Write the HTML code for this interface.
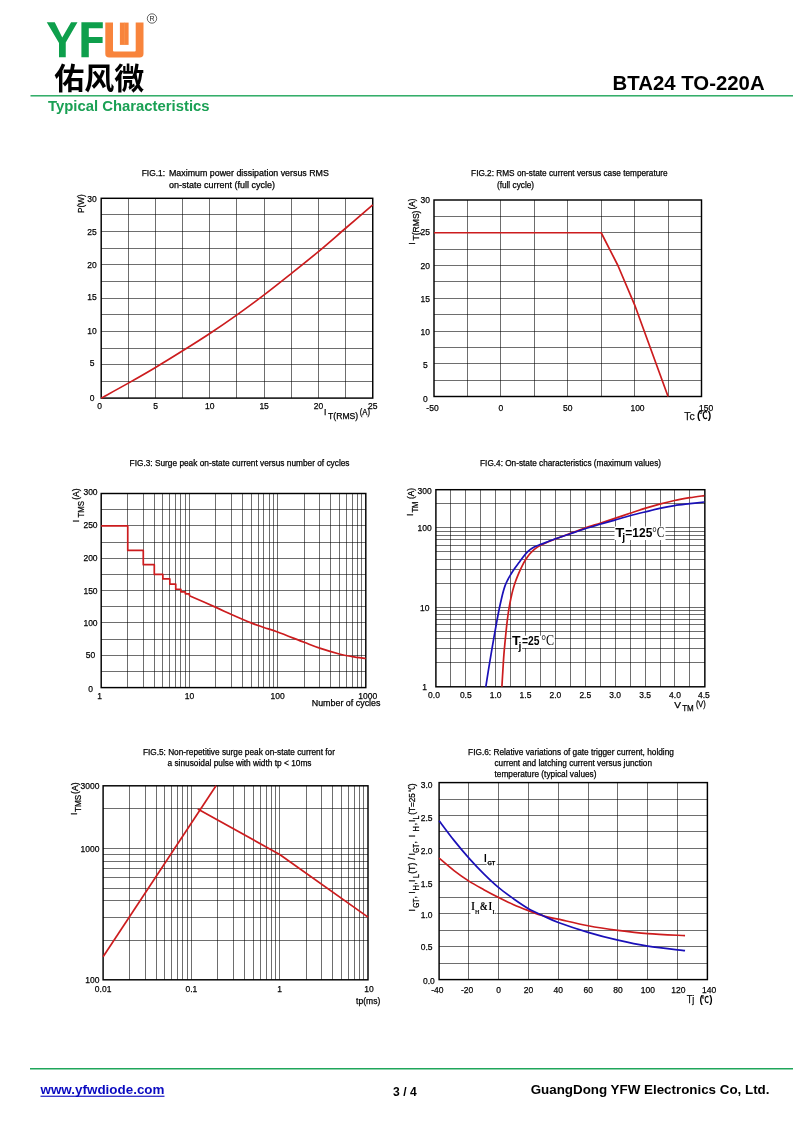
<!DOCTYPE html>
<html lang="en"><head><meta charset="utf-8"><title>BTA24 TO-220A - Typical Characteristics</title>
<style>
html,body{margin:0;padding:0;background:#fff;}
body{width:800px;height:1130px;overflow:hidden;font-family:"Liberation Sans",sans-serif;}
svg{display:block;position:absolute;left:0;top:0;will-change:transform;}
svg{font-family:"Liberation Sans",sans-serif;}
.s,.r text{stroke:#000;stroke-width:0.25px;}
</style></head><body>
<svg width="800" height="1130" viewBox="0 0 800 1130" font-size="8.6" fill="#000">
<path d="M46.75 22.3H54.75L62.25 37.5L71.1 22.3H77.5L65.75 42.5V57.25H59V43Z" fill="#0e9f4c"/>
<path d="M81.4 22.3H102.8V28.2H88.8V37H102.6V42.9H88.8V57.25H81.4Z" fill="#0e9f4c"/>
<path d="M105.3 22.6H113V50.4Q113 51.4 114 51.4H134.7Q135.7 51.4 135.7 50.4V22.6H143.5V53.7Q143.5 57.5 139.7 57.5H109.1Q105.3 57.5 105.3 53.7Z" fill="#f8843c"/>
<rect x="119.9" y="22.6" width="8.7" height="22.3" fill="#f8843c"/>
<rect x="124.0" y="22.6" width="0.5" height="22.3" fill="#f79a58"/>
<circle cx="152" cy="18.5" r="4.7" fill="none" stroke="#222" stroke-width="0.7"/>
<text x="152" y="21.1" font-size="7.0" text-anchor="middle" fill="#222">R</text>
<text x="54.2" y="88.6" font-size="30" font-weight="bold" textLength="90" lengthAdjust="spacingAndGlyphs" fill="#000" style="font-family:'Liberation Sans','Noto Sans CJK SC',sans-serif">佑风微</text>
<rect x="30.5" y="95.1" width="762.5" height="1.4" fill="#1fa65a"/>
<text x="48.0" y="111.3" font-size="14.8" font-weight="bold" textLength="161.6" lengthAdjust="spacingAndGlyphs" fill="#1aa054">Typical Characteristics</text>
<text x="612.6" y="90.4" font-size="19.4" font-weight="bold" textLength="152" lengthAdjust="spacingAndGlyphs">BTA24 TO-220A</text>
<rect x="30" y="1068" width="763" height="1.5" fill="#1fa65a"/>
<text x="40.5" y="1093.7" font-size="13.4" font-weight="bold" textLength="124" lengthAdjust="spacingAndGlyphs" fill="#0a0ac0">www.yfwdiode.com</text>
<rect x="40.5" y="1095.7" width="124" height="1.1" fill="#0a0ac0"/>
<text x="393.1" y="1095.7" font-size="12.1" font-weight="bold" textLength="23.6" lengthAdjust="spacingAndGlyphs">3 / 4</text>
<text x="530.7" y="1093.6" font-size="13.4" font-weight="bold" textLength="238.8" lengthAdjust="spacingAndGlyphs">GuangDong YFW Electronics Co, Ltd.</text>
<g stroke="#000" stroke-opacity="0.57" stroke-width="1" fill="none" shape-rendering="crispEdges"><path d="M128.36 198.3V398.1M155.51 198.3V398.1M182.67 198.3V398.1M209.82 198.3V398.1M236.98 198.3V398.1M264.13 198.3V398.1M291.29 198.3V398.1M318.44 198.3V398.1M345.60 198.3V398.1"/><path d="M101.2 214.95H372.75M101.2 231.60H372.75M101.2 248.25H372.75M101.2 264.90H372.75M101.2 281.55H372.75M101.2 298.20H372.75M101.2 314.85H372.75M101.2 331.50H372.75M101.2 348.15H372.75M101.2 364.80H372.75M101.2 381.45H372.75"/></g>
<rect x="101.2" y="198.3" width="271.55" height="199.80" fill="none" stroke="#000" stroke-width="1.45"/>
<path d="M101.20 398.10C105.73 395.60 119.30 388.22 128.36 383.12C137.41 378.01 146.46 372.85 155.51 367.46C164.56 362.08 173.61 356.48 182.67 350.81C191.72 345.15 200.77 339.49 209.82 333.50C218.87 327.50 227.92 321.29 236.98 314.85C246.03 308.41 255.08 301.75 264.13 294.87C273.18 287.99 282.23 280.77 291.29 273.56C300.34 266.34 309.39 259.13 318.44 251.58C327.49 244.03 336.54 236.04 345.60 228.27C354.65 220.50 368.22 208.84 372.75 204.96" stroke="#cc1c1e" stroke-width="1.7" fill="none" stroke-linejoin="round"/>
<text x="141.7" y="175.9" class="s" font-size="8.5" textLength="23.3" lengthAdjust="spacingAndGlyphs">FIG.1:</text>
<text x="169" y="175.9" class="s" font-size="8.5" textLength="159.9" lengthAdjust="spacingAndGlyphs">Maximum power dissipation versus RMS</text>
<text x="169" y="188.3" class="s" font-size="8.5" textLength="105.9" lengthAdjust="spacingAndGlyphs">on-state current (full cycle)</text>
<text x="92.0" y="201.8" class="s" font-size="9.6" text-anchor="middle" textLength="9.45" lengthAdjust="spacingAndGlyphs">30</text>
<text x="92.0" y="234.9" class="s" font-size="9.6" text-anchor="middle" textLength="9.45" lengthAdjust="spacingAndGlyphs">25</text>
<text x="92.0" y="268" class="s" font-size="9.6" text-anchor="middle" textLength="9.45" lengthAdjust="spacingAndGlyphs">20</text>
<text x="92.0" y="299.7" class="s" font-size="9.6" text-anchor="middle" textLength="9.45" lengthAdjust="spacingAndGlyphs">15</text>
<text x="92.0" y="333.6" class="s" font-size="9.6" text-anchor="middle" textLength="9.45" lengthAdjust="spacingAndGlyphs">10</text>
<text x="92.0" y="366.3" class="s" font-size="9.6" text-anchor="middle" textLength="4.73" lengthAdjust="spacingAndGlyphs">5</text>
<text x="92.0" y="401.3" class="s" font-size="9.6" text-anchor="middle" textLength="4.73" lengthAdjust="spacingAndGlyphs">0</text>
<text x="99.5" y="408.5" class="s" font-size="9.6" text-anchor="middle" textLength="4.73" lengthAdjust="spacingAndGlyphs">0</text>
<text x="155.5" y="408.5" class="s" font-size="9.6" text-anchor="middle" textLength="4.73" lengthAdjust="spacingAndGlyphs">5</text>
<text x="209.8" y="408.5" class="s" font-size="9.6" text-anchor="middle" textLength="9.45" lengthAdjust="spacingAndGlyphs">10</text>
<text x="264.1" y="408.5" class="s" font-size="9.6" text-anchor="middle" textLength="9.45" lengthAdjust="spacingAndGlyphs">15</text>
<text x="318.4" y="408.5" class="s" font-size="9.6" text-anchor="middle" textLength="9.45" lengthAdjust="spacingAndGlyphs">20</text>
<text x="372.8" y="408.5" class="s" font-size="9.6" text-anchor="middle" textLength="9.45" lengthAdjust="spacingAndGlyphs">25</text>
<g class="r" transform="translate(84.1,212.9) rotate(-90)"><text x="0" y="0" textLength="18.7" lengthAdjust="spacingAndGlyphs">P(W)</text></g>
<text x="324.1" y="414.8" class="s">I</text>
<text x="328" y="419.2" class="s" textLength="30.2" lengthAdjust="spacingAndGlyphs">T(RMS)</text>
<text x="359.7" y="415" class="s" textLength="10.3" lengthAdjust="spacingAndGlyphs">(A)</text>
<g stroke="#000" stroke-opacity="0.57" stroke-width="1" fill="none" shape-rendering="crispEdges"><path d="M467.44 200.0V396.5M500.88 200.0V396.5M534.31 200.0V396.5M567.75 200.0V396.5M601.19 200.0V396.5M634.62 200.0V396.5M668.06 200.0V396.5"/><path d="M434.0 216.38H701.5M434.0 232.75H701.5M434.0 249.12H701.5M434.0 265.50H701.5M434.0 281.88H701.5M434.0 298.25H701.5M434.0 314.62H701.5M434.0 331.00H701.5M434.0 347.38H701.5M434.0 363.75H701.5M434.0 380.12H701.5"/></g>
<rect x="434.0" y="200.0" width="267.50" height="196.50" fill="none" stroke="#000" stroke-width="1.45"/>
<path d="M434.00 232.75L601.19 232.75L617.91 265.50L634.62 304.80L668.06 396.50" stroke="#cc1c1e" stroke-width="1.7" fill="none" stroke-linejoin="round"/>
<text x="471.1" y="175.9" class="s" font-size="8.5" textLength="196.5" lengthAdjust="spacingAndGlyphs">FIG.2: RMS on-state current versus case temperature</text>
<text x="496.9" y="188.2" class="s" font-size="8.5" textLength="37.2" lengthAdjust="spacingAndGlyphs">(full cycle)</text>
<text x="425.3" y="202.7" class="s" font-size="9.6" text-anchor="middle" textLength="9.45" lengthAdjust="spacingAndGlyphs">30</text>
<text x="425.3" y="235.4" class="s" font-size="9.6" text-anchor="middle" textLength="9.45" lengthAdjust="spacingAndGlyphs">25</text>
<text x="425.3" y="268.9" class="s" font-size="9.6" text-anchor="middle" textLength="9.45" lengthAdjust="spacingAndGlyphs">20</text>
<text x="425.3" y="301.6" class="s" font-size="9.6" text-anchor="middle" textLength="9.45" lengthAdjust="spacingAndGlyphs">15</text>
<text x="425.3" y="334.7" class="s" font-size="9.6" text-anchor="middle" textLength="9.45" lengthAdjust="spacingAndGlyphs">10</text>
<text x="425.3" y="367.6" class="s" font-size="9.6" text-anchor="middle" textLength="4.73" lengthAdjust="spacingAndGlyphs">5</text>
<text x="425.3" y="401.7" class="s" font-size="9.6" text-anchor="middle" textLength="4.73" lengthAdjust="spacingAndGlyphs">0</text>
<text x="432.5" y="410.8" class="s" font-size="9.6" text-anchor="middle" textLength="12.28" lengthAdjust="spacingAndGlyphs">-50</text>
<text x="500.9" y="410.8" class="s" font-size="9.6" text-anchor="middle" textLength="4.73" lengthAdjust="spacingAndGlyphs">0</text>
<text x="567.8" y="410.8" class="s" font-size="9.6" text-anchor="middle" textLength="9.45" lengthAdjust="spacingAndGlyphs">50</text>
<text x="637.5" y="410.8" class="s" font-size="9.6" text-anchor="middle" textLength="14.18" lengthAdjust="spacingAndGlyphs">100</text>
<text x="706.2" y="410.6" class="s" font-size="9.6" text-anchor="middle" textLength="14.18" lengthAdjust="spacingAndGlyphs">150</text>
<g class="r" transform="translate(414.6,244.7) rotate(-90)"><text x="0" y="0">I</text><text x="4.2" y="4.2" textLength="30" lengthAdjust="spacingAndGlyphs">T(RMS)</text><text x="35.3" y="0.2" textLength="10.9" lengthAdjust="spacingAndGlyphs">(A)</text></g>
<text x="684.3" y="419.5" class="s" font-size="10.8" textLength="10.4" lengthAdjust="spacingAndGlyphs" fill="#222">Tc</text>
<text x="697" y="419.2" font-size="10.5" font-weight="bold">(</text>
<text x="699.3" y="419.2" font-size="10.2" font-weight="bold" textLength="8.4" lengthAdjust="spacingAndGlyphs" fill="#000" style="font-family:'Liberation Sans','Noto Sans CJK SC',sans-serif">℃</text>
<text x="707.8" y="419.2" font-size="10.5" font-weight="bold">)</text>
<g stroke="#000" stroke-opacity="0.57" stroke-width="1" fill="none" shape-rendering="crispEdges"><path d="M127.75 493.5V687.6M143.28 493.5V687.6M154.30 493.5V687.6M162.85 493.5V687.6M169.83 493.5V687.6M175.74 493.5V687.6M180.85 493.5V687.6M185.36 493.5V687.6M189.40 493.5V687.6M215.95 493.5V687.6M231.48 493.5V687.6M242.50 493.5V687.6M251.05 493.5V687.6M258.03 493.5V687.6M263.94 493.5V687.6M269.05 493.5V687.6M273.56 493.5V687.6M277.60 493.5V687.6M304.15 493.5V687.6M319.68 493.5V687.6M330.70 493.5V687.6M339.25 493.5V687.6M346.23 493.5V687.6M352.14 493.5V687.6M357.25 493.5V687.6M361.76 493.5V687.6"/><path d="M101.2 509.68H365.8M101.2 525.85H365.8M101.2 542.02H365.8M101.2 558.20H365.8M101.2 574.38H365.8M101.2 590.55H365.8M101.2 606.73H365.8M101.2 622.90H365.8M101.2 639.08H365.8M101.2 655.25H365.8M101.2 671.43H365.8"/></g>
<rect x="101.2" y="493.5" width="264.60" height="194.10" fill="none" stroke="#000" stroke-width="1.45"/>
<path d="M101.20 525.85L127.75 525.85L127.75 550.44L143.28 550.44L143.28 564.67L154.30 564.67L154.30 574.38L162.85 574.38L162.85 578.90L169.83 578.90L169.83 584.08L175.74 584.08L175.74 589.26L180.85 589.26L180.85 591.84L185.36 591.84L185.36 593.78L189.40 593.78L189.40 595.73" stroke="#cc1c1e" stroke-width="1.7" fill="none" stroke-linejoin="round"/>
<path d="M189.40 595.73C193.83 597.67 208.94 604.24 215.95 607.37C222.96 610.50 225.63 611.90 231.48 614.49C237.33 617.08 245.64 620.74 251.05 622.90C256.46 625.06 259.51 625.92 263.94 627.43C268.36 628.94 270.90 629.48 277.60 631.96C284.30 634.44 297.14 639.61 304.15 642.31C311.16 645.01 313.83 646.19 319.68 648.13C325.53 650.07 333.84 652.55 339.25 653.96C344.66 655.36 347.71 655.79 352.14 656.54C356.56 657.30 363.52 658.16 365.80 658.49" stroke="#cc1c1e" stroke-width="1.7" fill="none" stroke-linejoin="round"/>
<text x="129.6" y="465.6" class="s" font-size="8.3" textLength="219.9" lengthAdjust="spacingAndGlyphs">FIG.3: Surge peak on-state current versus number of cycles</text>
<text x="90.5" y="495.3" class="s" font-size="9.6" text-anchor="middle" textLength="14.18" lengthAdjust="spacingAndGlyphs">300</text>
<text x="90.5" y="528.4" class="s" font-size="9.6" text-anchor="middle" textLength="14.18" lengthAdjust="spacingAndGlyphs">250</text>
<text x="90.5" y="561" class="s" font-size="9.6" text-anchor="middle" textLength="14.18" lengthAdjust="spacingAndGlyphs">200</text>
<text x="90.5" y="593.7" class="s" font-size="9.6" text-anchor="middle" textLength="14.18" lengthAdjust="spacingAndGlyphs">150</text>
<text x="90.5" y="625.8" class="s" font-size="9.6" text-anchor="middle" textLength="14.18" lengthAdjust="spacingAndGlyphs">100</text>
<text x="90.5" y="658.3" class="s" font-size="9.6" text-anchor="middle" textLength="9.45" lengthAdjust="spacingAndGlyphs">50</text>
<text x="90.5" y="692.4" class="s" font-size="9.6" text-anchor="middle" textLength="4.73" lengthAdjust="spacingAndGlyphs">0</text>
<text x="99.6" y="699" class="s" font-size="9.6" text-anchor="middle" textLength="4.73" lengthAdjust="spacingAndGlyphs">1</text>
<text x="189.4" y="699" class="s" font-size="9.6" text-anchor="middle" textLength="9.45" lengthAdjust="spacingAndGlyphs">10</text>
<text x="277.6" y="699" class="s" font-size="9.6" text-anchor="middle" textLength="14.18" lengthAdjust="spacingAndGlyphs">100</text>
<text x="367.8" y="699" class="s" font-size="9.6" text-anchor="middle" textLength="18.9" lengthAdjust="spacingAndGlyphs">1000</text>
<text x="311.75" y="705.75" class="s" font-size="8.8" textLength="68.7" lengthAdjust="spacingAndGlyphs">Number of cycles</text>
<g class="r" transform="translate(79.1,522.2) rotate(-90)"><text x="0" y="0">I</text><text x="4.6" y="4.9" textLength="16.5" lengthAdjust="spacingAndGlyphs">TMS</text><text x="22.4" y="0.2" textLength="11.3" lengthAdjust="spacingAndGlyphs">(A)</text></g>
<g stroke="#000" stroke-opacity="0.57" stroke-width="1" fill="none" shape-rendering="crispEdges"><path d="M450.84 489.7V686.8M465.78 489.7V686.8M480.72 489.7V686.8M495.67 489.7V686.8M510.61 489.7V686.8M525.55 489.7V686.8M540.49 489.7V686.8M555.43 489.7V686.8M570.38 489.7V686.8M585.32 489.7V686.8M600.26 489.7V686.8M615.20 489.7V686.8M630.14 489.7V686.8M645.08 489.7V686.8M660.03 489.7V686.8M674.97 489.7V686.8M689.91 489.7V686.8"/><path d="M435.9 662.85H704.85M435.9 648.84H704.85M435.9 638.90H704.85M435.9 631.18H704.85M435.9 624.88H704.85M435.9 619.56H704.85M435.9 614.94H704.85M435.9 610.87H704.85M435.9 607.23H704.85M435.9 583.28H704.85M435.9 569.27H704.85M435.9 559.33H704.85M435.9 551.62H704.85M435.9 545.32H704.85M435.9 539.99H704.85M435.9 535.37H704.85M435.9 531.30H704.85M435.9 527.66H704.85M435.9 503.71H704.85"/></g>
<rect x="435.9" y="489.7" width="268.95" height="197.10" fill="none" stroke="#000" stroke-width="1.45"/>
<path d="M501.90 686.80C502.05 684.27 502.47 676.97 502.80 671.60C503.13 666.23 503.50 659.80 503.90 654.60C504.30 649.40 504.75 645.12 505.20 640.40C505.65 635.68 506.13 630.53 506.60 626.30C507.07 622.07 507.53 618.35 508.00 615.00C508.47 611.65 508.93 608.90 509.40 606.20C509.87 603.50 510.25 601.40 510.80 598.80C511.35 596.20 511.93 593.43 512.70 590.60C513.47 587.77 514.40 584.67 515.40 581.80C516.40 578.93 517.55 576.10 518.70 573.40C519.85 570.70 521.18 567.83 522.30 565.60C523.42 563.37 524.20 561.88 525.40 560.00C526.60 558.12 528.10 556.00 529.50 554.30C530.90 552.60 532.35 551.08 533.80 549.80C535.25 548.52 537.00 547.38 538.20 546.60C539.40 545.82 539.40 545.87 541.00 545.10C542.60 544.33 545.40 543.02 547.80 542.00C550.20 540.98 551.63 540.43 555.40 539.00C559.17 537.57 565.47 535.22 570.40 533.40C575.33 531.58 580.05 529.80 585.00 528.10C589.95 526.40 595.13 524.82 600.10 523.20C605.07 521.58 609.83 520.05 614.80 518.40C619.77 516.75 624.90 514.97 629.90 513.30C634.90 511.63 639.85 509.93 644.80 508.40C649.75 506.87 654.65 505.42 659.60 504.10C664.55 502.78 669.47 501.57 674.50 500.50C679.53 499.43 684.83 498.52 689.80 497.70C694.77 496.88 701.88 495.95 704.30 495.60" stroke="#cc1c1e" stroke-width="1.7" fill="none" stroke-linejoin="round"/>
<path d="M485.80 686.80C486.20 684.27 487.33 676.97 488.20 671.60C489.07 666.23 490.05 660.27 491.00 654.60C491.95 648.93 492.95 643.03 493.90 637.60C494.85 632.17 495.82 626.77 496.70 622.00C497.58 617.23 498.43 612.75 499.20 609.00C499.97 605.25 500.63 602.37 501.30 599.50C501.97 596.63 502.57 594.12 503.20 591.80C503.83 589.48 504.43 587.43 505.10 585.60C505.77 583.77 506.35 582.50 507.20 580.80C508.05 579.10 508.97 577.43 510.20 575.40C511.43 573.37 513.13 570.75 514.60 568.60C516.07 566.45 517.52 564.52 519.00 562.50C520.48 560.48 522.00 558.35 523.50 556.50C525.00 554.65 526.50 552.82 528.00 551.40C529.50 549.98 531.00 548.93 532.50 548.00C534.00 547.07 535.62 546.40 537.00 545.80C538.38 545.20 539.02 545.07 540.80 544.40C542.58 543.73 545.27 542.73 547.70 541.80C550.13 540.87 551.62 540.15 555.40 538.80C559.18 537.45 565.47 535.37 570.40 533.70C575.33 532.03 580.05 530.37 585.00 528.80C589.95 527.23 595.13 525.75 600.10 524.30C605.07 522.85 609.83 521.52 614.80 520.10C619.77 518.68 624.90 517.15 629.90 515.80C634.90 514.45 639.85 513.23 644.80 512.00C649.75 510.77 654.65 509.47 659.60 508.40C664.55 507.33 669.47 506.38 674.50 505.60C679.53 504.82 684.83 504.30 689.80 503.70C694.77 503.10 701.88 502.28 704.30 502.00" stroke="#1a10b8" stroke-width="1.7" fill="none" stroke-linejoin="round"/>
<text x="480.1" y="465.6" class="s" font-size="8.3" textLength="180.9" lengthAdjust="spacingAndGlyphs">FIG.4: On-state characteristics (maximum values)</text>
<text x="424.7" y="493.7" class="s" font-size="9.6" text-anchor="middle" textLength="14.18" lengthAdjust="spacingAndGlyphs">300</text>
<text x="424.7" y="530.7" class="s" font-size="9.6" text-anchor="middle" textLength="14.18" lengthAdjust="spacingAndGlyphs">100</text>
<text x="424.7" y="610.5" class="s" font-size="9.6" text-anchor="middle" textLength="9.45" lengthAdjust="spacingAndGlyphs">10</text>
<text x="424.7" y="689.8" class="s" font-size="9.6" text-anchor="middle" textLength="4.73" lengthAdjust="spacingAndGlyphs">1</text>
<text x="434.0" y="697.8" class="s" font-size="9.6" text-anchor="middle" textLength="11.81" lengthAdjust="spacingAndGlyphs">0.0</text>
<text x="465.8" y="697.8" class="s" font-size="9.6" text-anchor="middle" textLength="11.81" lengthAdjust="spacingAndGlyphs">0.5</text>
<text x="495.7" y="697.8" class="s" font-size="9.6" text-anchor="middle" textLength="11.81" lengthAdjust="spacingAndGlyphs">1.0</text>
<text x="525.5" y="697.8" class="s" font-size="9.6" text-anchor="middle" textLength="11.81" lengthAdjust="spacingAndGlyphs">1.5</text>
<text x="555.4" y="697.8" class="s" font-size="9.6" text-anchor="middle" textLength="11.81" lengthAdjust="spacingAndGlyphs">2.0</text>
<text x="585.3" y="697.8" class="s" font-size="9.6" text-anchor="middle" textLength="11.81" lengthAdjust="spacingAndGlyphs">2.5</text>
<text x="615.2" y="697.8" class="s" font-size="9.6" text-anchor="middle" textLength="11.81" lengthAdjust="spacingAndGlyphs">3.0</text>
<text x="645.1" y="697.8" class="s" font-size="9.6" text-anchor="middle" textLength="11.81" lengthAdjust="spacingAndGlyphs">3.5</text>
<text x="675.0" y="697.8" class="s" font-size="9.6" text-anchor="middle" textLength="11.81" lengthAdjust="spacingAndGlyphs">4.0</text>
<text x="703.9" y="697.8" class="s" font-size="9.6" text-anchor="middle" textLength="11.81" lengthAdjust="spacingAndGlyphs">4.5</text>
<g class="r" transform="translate(413.1,516.0) rotate(-90)"><text x="0" y="0">I</text><text x="3.5" y="4.5" textLength="10.9" lengthAdjust="spacingAndGlyphs">TM</text><text x="17" y="0.8" textLength="10.9" lengthAdjust="spacingAndGlyphs">(A)</text></g>
<text x="674.3" y="707.6" class="s" textLength="6.7" lengthAdjust="spacingAndGlyphs">V</text>
<text x="682.2" y="711.2" class="s" textLength="11.6" lengthAdjust="spacingAndGlyphs">TM</text>
<text x="695.9" y="707.2" class="s" textLength="9.9" lengthAdjust="spacingAndGlyphs">(V)</text>
<path d="M614.5 526.5H665.5V540H626V543.2H622V540H614.5Z" fill="#fff"/>
<text x="615.2" y="536.8" font-size="12.8" font-weight="bold" textLength="9" lengthAdjust="spacingAndGlyphs">T</text>
<text x="622.3" y="541.0" font-size="10.5" font-weight="bold">j</text>
<text x="625.3" y="536.8" font-size="12.8" font-weight="bold" textLength="27" lengthAdjust="spacingAndGlyphs">=125</text>
<text x="652.3" y="536.8" font-size="13.6" textLength="12" lengthAdjust="spacingAndGlyphs" style="font-family:'Liberation Serif',serif">°C</text>
<path d="M511.4 635.7H554.7V648.1H522V652H518.3V648.1H511.4Z" fill="#fff"/>
<text x="511.9" y="645.3" font-size="12.8" font-weight="bold" textLength="8.5" lengthAdjust="spacingAndGlyphs">T</text>
<text x="518.6" y="649.5" font-size="10.5" font-weight="bold">j</text>
<text x="522" y="645.3" font-size="12.8" font-weight="bold" textLength="17.5" lengthAdjust="spacingAndGlyphs">=25</text>
<text x="541.2" y="645.3" font-size="13.6" textLength="12.9" lengthAdjust="spacingAndGlyphs" style="font-family:'Liberation Serif',serif">°C</text>
<g stroke="#000" stroke-opacity="0.57" stroke-width="1" fill="none" shape-rendering="crispEdges"><path d="M129.68 785.8V979.8M145.23 785.8V979.8M156.26 785.8V979.8M164.82 785.8V979.8M171.81 785.8V979.8M177.72 785.8V979.8M182.84 785.8V979.8M187.36 785.8V979.8M191.40 785.8V979.8M217.98 785.8V979.8M233.53 785.8V979.8M244.56 785.8V979.8M253.12 785.8V979.8M260.11 785.8V979.8M266.02 785.8V979.8M271.14 785.8V979.8M275.66 785.8V979.8M279.70 785.8V979.8M306.28 785.8V979.8M321.83 785.8V979.8M332.86 785.8V979.8M341.42 785.8V979.8M348.41 785.8V979.8M354.32 785.8V979.8M359.44 785.8V979.8M363.96 785.8V979.8"/><path d="M103.1 940.26H368.0M103.1 917.14H368.0M103.1 900.73H368.0M103.1 888.00H368.0M103.1 877.60H368.0M103.1 868.81H368.0M103.1 861.19H368.0M103.1 854.47H368.0M103.1 848.46H368.0M103.1 808.93H368.0"/></g>
<rect x="103.1" y="785.8" width="264.90" height="194.00" fill="none" stroke="#000" stroke-width="1.45"/>
<path d="M103.10 956.67L216.01 785.80" stroke="#cc1c1e" stroke-width="1.7" fill="none" stroke-linejoin="round"/>
<path d="M197.75 808.93L279.70 854.47L368.00 917.14" stroke="#cc1c1e" stroke-width="1.7" fill="none" stroke-linejoin="round"/>
<text x="142.9" y="755.3" class="s" font-size="8.3" textLength="192" lengthAdjust="spacingAndGlyphs">FIG.5: Non-repetitive surge peak on-state current for</text>
<text x="167.5" y="766.0" class="s" font-size="8.3" textLength="144" lengthAdjust="spacingAndGlyphs">a sinusoidal pulse with width tp &lt; 10ms</text>
<text x="99.4" y="788.7" class="s" font-size="9.6" text-anchor="end" textLength="18.9" lengthAdjust="spacingAndGlyphs">3000</text>
<text x="99.4" y="851.6" class="s" font-size="9.6" text-anchor="end" textLength="18.9" lengthAdjust="spacingAndGlyphs">1000</text>
<text x="99.4" y="983.4" class="s" font-size="9.6" text-anchor="end" textLength="14.18" lengthAdjust="spacingAndGlyphs">100</text>
<text x="103.1" y="992.3" class="s" font-size="9.6" text-anchor="middle" textLength="16.54" lengthAdjust="spacingAndGlyphs">0.01</text>
<text x="191.4" y="992.3" class="s" font-size="9.6" text-anchor="middle" textLength="11.81" lengthAdjust="spacingAndGlyphs">0.1</text>
<text x="279.7" y="992.3" class="s" font-size="9.6" text-anchor="middle" textLength="4.73" lengthAdjust="spacingAndGlyphs">1</text>
<text x="368.9" y="992.3" class="s" font-size="9.6" text-anchor="middle" textLength="9.45" lengthAdjust="spacingAndGlyphs">10</text>
<text x="356.1" y="1003.8" class="s" textLength="24.2" lengthAdjust="spacingAndGlyphs">tp(ms)</text>
<g class="r" transform="translate(76.9,815.1) rotate(-90)"><text x="0" y="0">I</text><text x="3.1" y="4.1" textLength="17.25" lengthAdjust="spacingAndGlyphs">TMS</text><text x="21.1" y="0.8" textLength="11.6" lengthAdjust="spacingAndGlyphs">(A)</text></g>
<g stroke="#000" stroke-opacity="0.57" stroke-width="1" fill="none" shape-rendering="crispEdges"><path d="M468.91 782.6V979.6M498.72 782.6V979.6M528.53 782.6V979.6M558.34 782.6V979.6M588.16 782.6V979.6M617.97 782.6V979.6M647.78 782.6V979.6M677.59 782.6V979.6"/><path d="M439.1 799.02H707.4M439.1 815.43H707.4M439.1 831.85H707.4M439.1 848.27H707.4M439.1 864.68H707.4M439.1 881.10H707.4M439.1 897.52H707.4M439.1 913.93H707.4M439.1 930.35H707.4M439.1 946.77H707.4M439.1 963.18H707.4"/></g>
<rect x="439.1" y="782.6" width="268.30" height="197.00" fill="none" stroke="#000" stroke-width="1.45"/>
<rect x="486.7" y="855" width="10" height="10.5" fill="#fff"/>
<rect x="470.5" y="901.5" width="26" height="13.5" fill="#fff"/>
<path d="M439.10 858.12C441.58 860.20 449.04 866.76 454.01 870.59C458.97 874.42 463.94 877.93 468.91 881.10C473.88 884.27 478.85 886.90 483.82 889.64C488.79 892.37 493.75 895.00 498.72 897.52C503.69 900.03 508.66 902.55 513.63 904.74C518.60 906.93 523.56 908.79 528.53 910.65C533.50 912.51 538.47 914.48 543.44 915.90C548.41 917.33 550.89 917.55 558.34 919.19C565.80 920.83 578.22 923.89 588.16 925.75C598.09 927.61 608.03 929.04 617.97 930.35C627.90 931.66 636.60 932.76 647.78 933.63C658.96 934.51 678.83 935.27 685.04 935.60" stroke="#cc1c1e" stroke-width="1.7" fill="none" stroke-linejoin="round"/>
<path d="M439.10 820.69C441.58 823.97 449.04 834.15 454.01 840.39C458.97 846.62 463.94 852.53 468.91 858.12C473.88 863.70 478.85 868.95 483.82 873.88C488.79 878.80 493.75 883.51 498.72 887.67C503.69 891.83 508.66 895.33 513.63 898.83C518.60 902.33 523.56 905.83 528.53 908.68C533.50 911.53 538.47 913.61 543.44 915.90C548.41 918.20 550.89 919.73 558.34 922.47C565.80 925.21 578.22 929.37 588.16 932.32C598.09 935.28 608.03 937.90 617.97 940.20C627.90 942.50 636.60 944.36 647.78 946.11C658.96 947.86 678.83 949.94 685.04 950.71" stroke="#1a10b8" stroke-width="1.7" fill="none" stroke-linejoin="round"/>
<text x="468.1" y="755" class="s" font-size="8.3" textLength="205.8" lengthAdjust="spacingAndGlyphs">FIG.6: Relative variations of gate trigger current, holding</text>
<text x="494.5" y="765.8" class="s" font-size="8.3" textLength="157.5" lengthAdjust="spacingAndGlyphs">current and latching current versus junction</text>
<text x="494.5" y="776.6" class="s" font-size="8.3" textLength="102" lengthAdjust="spacingAndGlyphs">temperature (typical values)</text>
<text x="434.8" y="983.5" class="s" font-size="9.6" text-anchor="end" textLength="11.81" lengthAdjust="spacingAndGlyphs">0.0</text>
<text x="432.5" y="949.6" class="s" font-size="9.6" text-anchor="end" textLength="11.81" lengthAdjust="spacingAndGlyphs">0.5</text>
<text x="432.5" y="917.7" class="s" font-size="9.6" text-anchor="end" textLength="11.81" lengthAdjust="spacingAndGlyphs">1.0</text>
<text x="432.5" y="886.9" class="s" font-size="9.6" text-anchor="end" textLength="11.81" lengthAdjust="spacingAndGlyphs">1.5</text>
<text x="432.5" y="853.9" class="s" font-size="9.6" text-anchor="end" textLength="11.81" lengthAdjust="spacingAndGlyphs">2.0</text>
<text x="432.5" y="820.7" class="s" font-size="9.6" text-anchor="end" textLength="11.81" lengthAdjust="spacingAndGlyphs">2.5</text>
<text x="432.5" y="787.6" class="s" font-size="9.6" text-anchor="end" textLength="11.81" lengthAdjust="spacingAndGlyphs">3.0</text>
<text x="437.3" y="992.6" class="s" font-size="9.6" text-anchor="middle" textLength="12.28" lengthAdjust="spacingAndGlyphs">-40</text>
<text x="467.1" y="992.6" class="s" font-size="9.6" text-anchor="middle" textLength="12.28" lengthAdjust="spacingAndGlyphs">-20</text>
<text x="498.7" y="992.6" class="s" font-size="9.6" text-anchor="middle" textLength="4.73" lengthAdjust="spacingAndGlyphs">0</text>
<text x="528.5" y="992.6" class="s" font-size="9.6" text-anchor="middle" textLength="9.45" lengthAdjust="spacingAndGlyphs">20</text>
<text x="558.3" y="992.6" class="s" font-size="9.6" text-anchor="middle" textLength="9.45" lengthAdjust="spacingAndGlyphs">40</text>
<text x="588.2" y="992.6" class="s" font-size="9.6" text-anchor="middle" textLength="9.45" lengthAdjust="spacingAndGlyphs">60</text>
<text x="618.0" y="992.6" class="s" font-size="9.6" text-anchor="middle" textLength="9.45" lengthAdjust="spacingAndGlyphs">80</text>
<text x="647.8" y="992.6" class="s" font-size="9.6" text-anchor="middle" textLength="14.18" lengthAdjust="spacingAndGlyphs">100</text>
<text x="678.4" y="992.6" class="s" font-size="9.6" text-anchor="middle" textLength="14.18" lengthAdjust="spacingAndGlyphs">120</text>
<text x="709.2" y="992.6" class="s" font-size="9.6" text-anchor="middle" textLength="14.18" lengthAdjust="spacingAndGlyphs">140</text>
<text x="686.8" y="1002.7" class="s" font-size="10" textLength="7.6" lengthAdjust="spacingAndGlyphs" fill="#222">Tj</text>
<text x="699.5" y="1003" font-size="10" font-weight="bold">(</text>
<text x="701.7" y="1003" font-size="9.2" font-weight="bold" textLength="7.2" lengthAdjust="spacingAndGlyphs" fill="#000" style="font-family:'Liberation Sans','Noto Sans CJK SC',sans-serif">℃</text>
<text x="709.3" y="1003" font-size="10" font-weight="bold">)</text>
<g class="r" transform="translate(414.6,911.6) rotate(-90)"><text x="0" y="0">I</text><text x="3.8" y="4.6" textLength="9.2" lengthAdjust="spacingAndGlyphs">GT</text><text x="13.2" y="1.5">,</text><text x="17.9" y="0">I</text><text x="21.1" y="4.6" textLength="5.3" lengthAdjust="spacingAndGlyphs">H</text><text x="26.8" y="1.5">,</text><text x="29.5" y="0">I</text><text x="33.6" y="4.6" textLength="4" lengthAdjust="spacingAndGlyphs">L</text><text x="37.8" y="0" textLength="11.2" lengthAdjust="spacingAndGlyphs">(T)</text><text x="51.8" y="0">/</text><text x="56.1" y="0">I</text><text x="58.9" y="4.6" textLength="8.7" lengthAdjust="spacingAndGlyphs">GT</text><text x="68.2" y="1.5">,</text><text x="74.4" y="0">I</text><text x="80.2" y="4.6" textLength="5.4" lengthAdjust="spacingAndGlyphs">H</text><text x="86.3" y="1.5">,</text><text x="89.6" y="0">I</text><text x="92.1" y="4.6" textLength="4" lengthAdjust="spacingAndGlyphs">L</text><text x="96.8" y="0.8" textLength="21.5" lengthAdjust="spacingAndGlyphs">(T=25</text><text x="125.3" y="0.8">)</text></g>
<g transform="translate(414.6,911.6) rotate(-90)">
<text x="119.5" y="0.8" font-size="7.5" font-weight="bold" textLength="6" lengthAdjust="spacingAndGlyphs" fill="#000" style="font-family:'Liberation Sans','Noto Sans CJK SC',sans-serif">℃</text>
</g>
<text x="484.0" y="861.6" font-size="11.3" font-weight="bold" textLength="2.7" lengthAdjust="spacingAndGlyphs">I</text>
<text x="487.4" y="864.8" class="s" font-size="4.8" font-weight="bold" textLength="7.8" lengthAdjust="spacingAndGlyphs">GT</text>
<text x="471.3" y="910.2" font-size="12.2" font-weight="bold" textLength="3.6" lengthAdjust="spacingAndGlyphs" style="font-family:'Liberation Serif',serif">I</text>
<text x="475" y="914.3" font-size="5.6" font-weight="bold" style="font-family:'Liberation Serif',serif">H</text>
<text x="479.8" y="910.2" font-size="11.6" font-weight="bold" textLength="8.0" lengthAdjust="spacingAndGlyphs" style="font-family:'Liberation Serif',serif">&amp;</text>
<text x="488.5" y="910.2" font-size="12.2" font-weight="bold" textLength="3.6" lengthAdjust="spacingAndGlyphs" style="font-family:'Liberation Serif',serif">I</text>
<text x="492.6" y="914.3" font-size="5.6" font-weight="bold" style="font-family:'Liberation Serif',serif">L</text>
</svg>
</body></html>
